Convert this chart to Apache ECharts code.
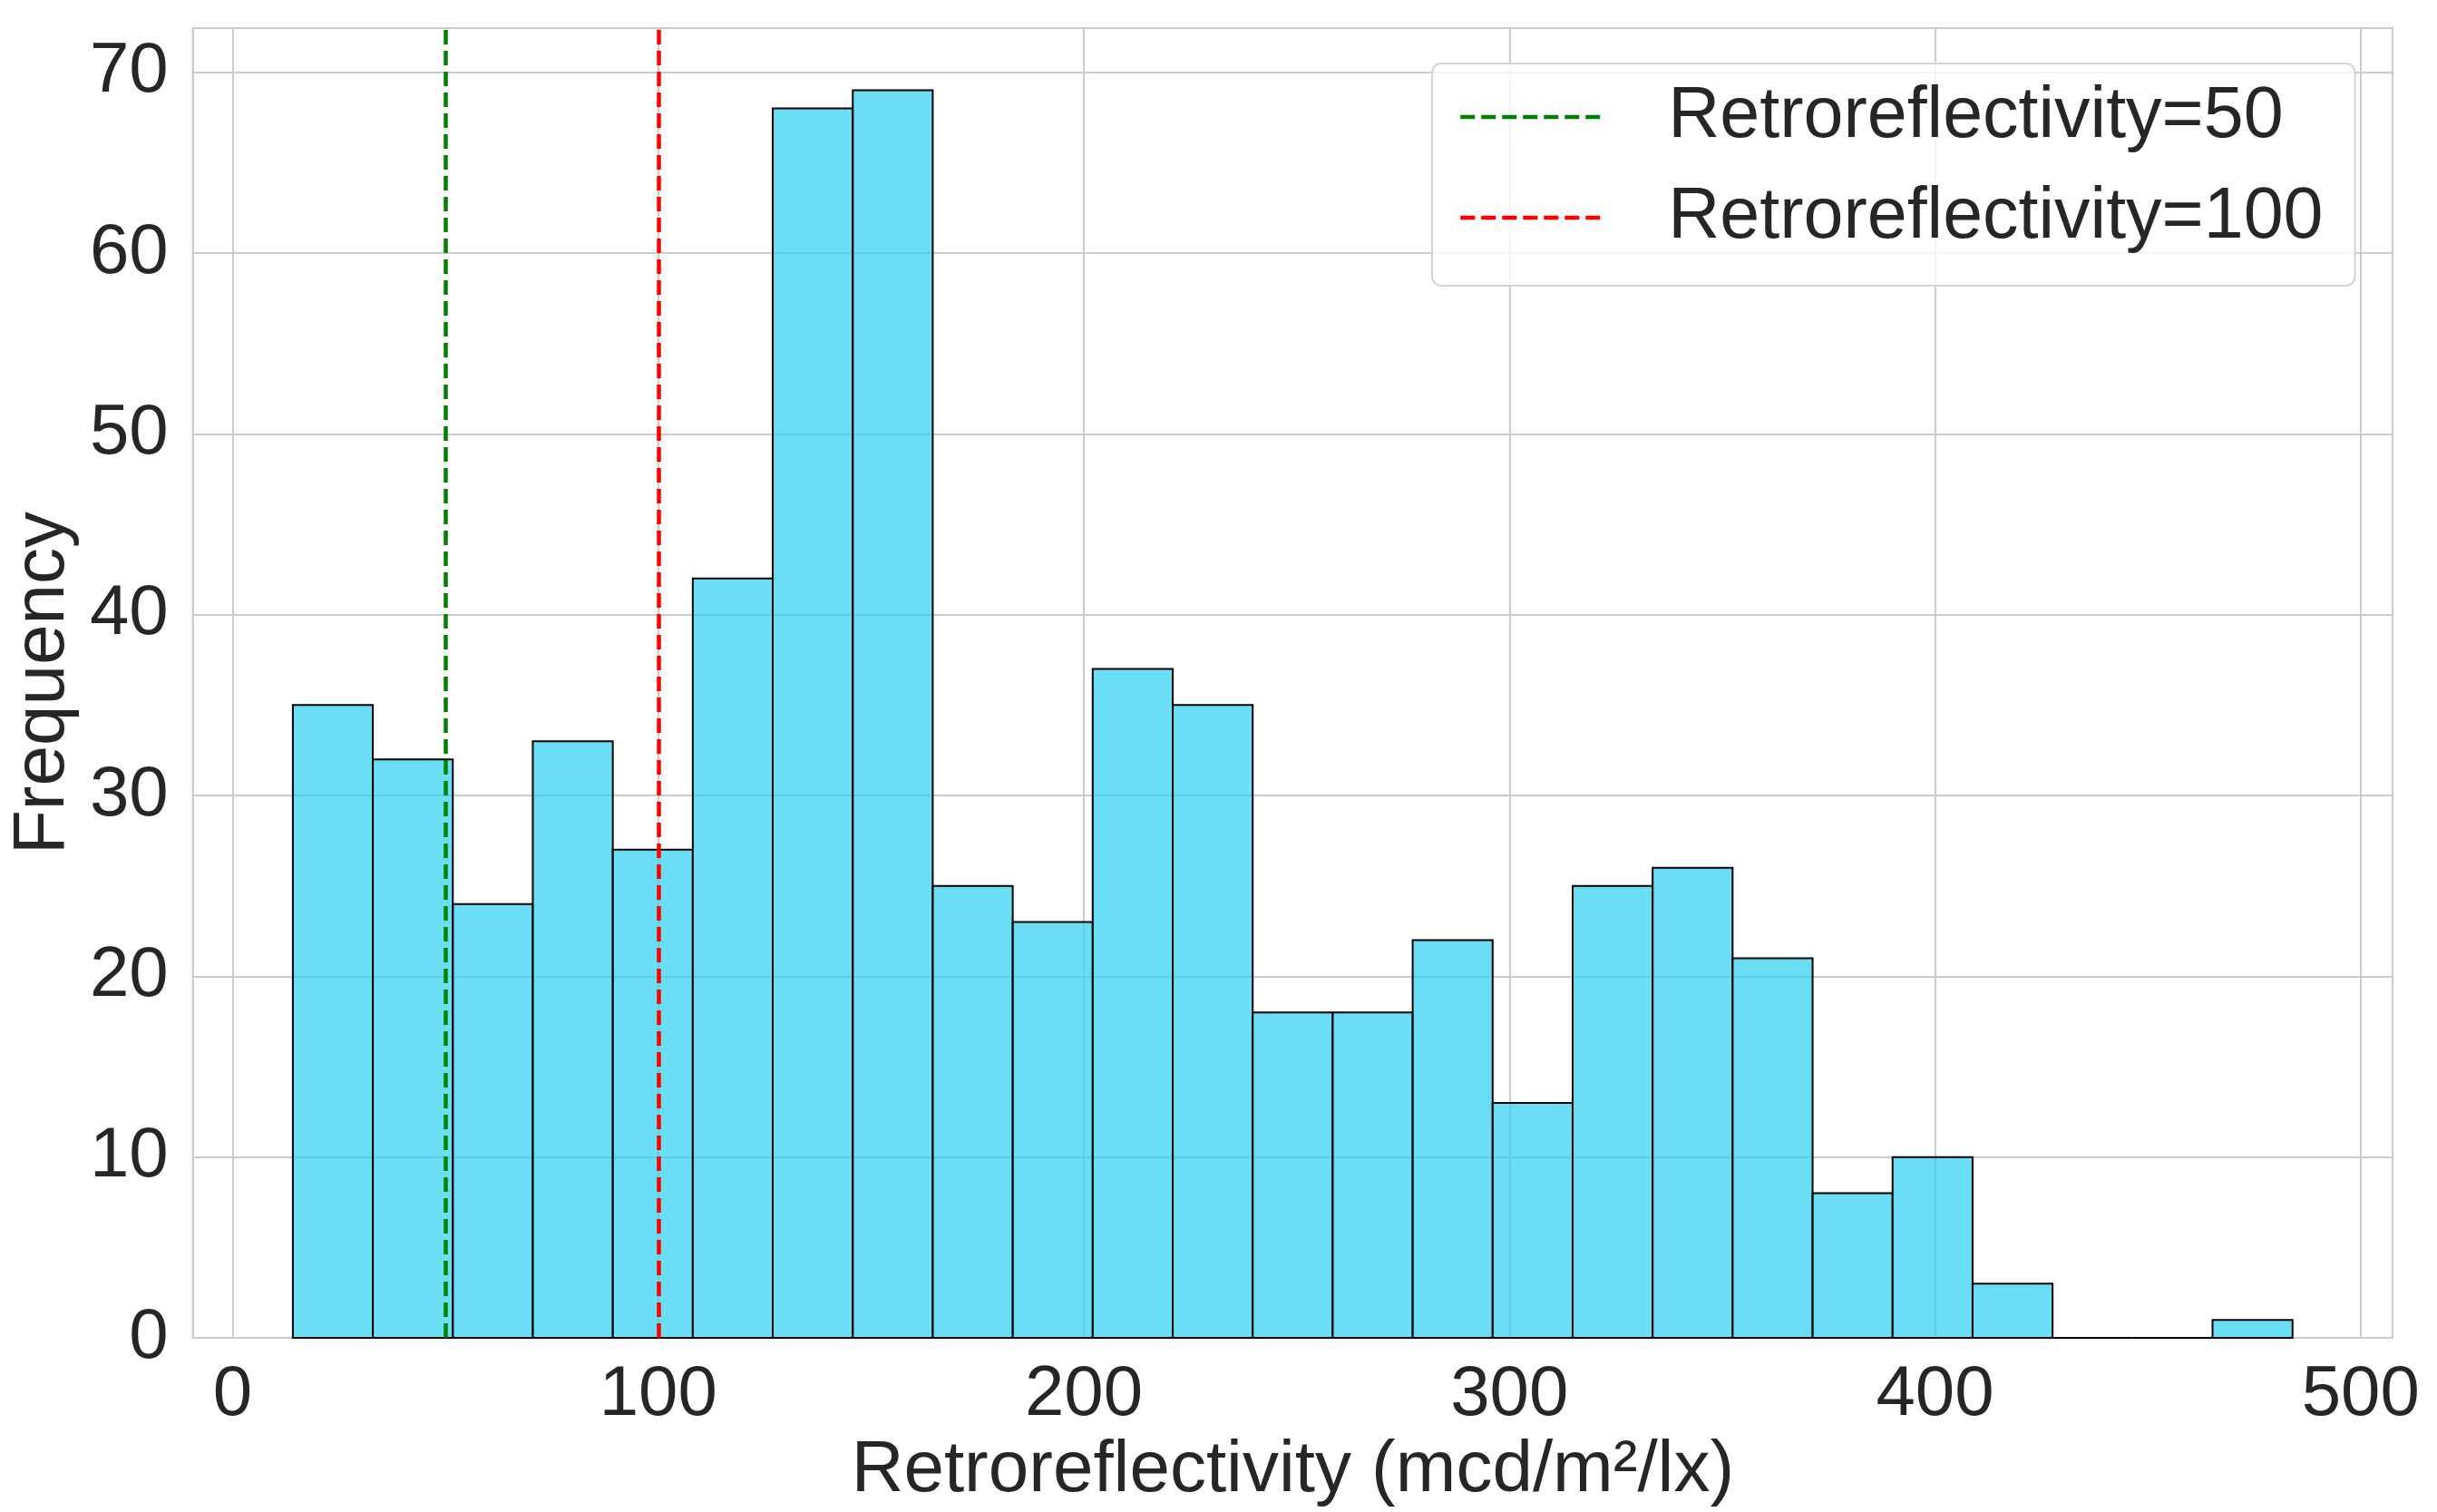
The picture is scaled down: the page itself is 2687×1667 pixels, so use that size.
<!DOCTYPE html>
<html>
<head>
<meta charset="utf-8">
<script src="https://cdn.jsdelivr.net/npm/echarts@6/dist/echarts.min.js"></script>
<style>
html,body{margin:0;padding:0;background:#ffffff;}
#chart{width:2687px;height:1667px;}
</style>
</head>
<body>
<div id="chart"></div>
<script>
// Histogram bin edges (25 bins)
const binEdges = [14.14, 32.93, 51.73, 70.52, 89.32, 108.11, 126.90, 145.70, 164.49, 183.29,
  202.08, 220.88, 239.67, 258.46, 277.26, 296.05, 314.85, 333.64, 352.43, 371.23,
  390.02, 408.82, 427.61, 446.41, 465.20, 484.00];
// Frequencies per bin
const counts = [35, 32, 24, 33, 27, 42, 68, 69, 25, 23, 37, 35, 18, 18, 22, 13, 25, 26, 21, 8, 10, 3, 0, 0, 1];
// Reference lines
const refValues = [50, 100];
const refNames = ['Retroreflectivity=50', 'Retroreflectivity=100'];
const refColors = ['#008000', '#ff0000'];
// Tick labels
const xTicks = [0, 100, 200, 300, 400, 500];
const yTicks = [0, 10, 20, 30, 40, 50, 60, 70];
const xLabel = 'Retroreflectivity (mcd/m²/lx)';
const yLabel = 'Frequency';

const FONT = 'Liberation Sans, Arial, sans-serif';
const TXT = '#262626';
const GRIDC = '#cccccc';
const DASH = [16, 7];

const histData = counts.map((c, i) => [binEdges[i], binEdges[i + 1], c]);

const chart = echarts.init(document.getElementById('chart'), null, {renderer: 'canvas'});

const refSeries = refValues.map((v, i) => ({
  type: 'line',
  name: refNames[i],
  data: [],
  symbol: 'none',
  z: 5,
  lineStyle: {color: refColors[i], width: 4.5, type: DASH},
  itemStyle: {color: refColors[i]},
  markLine: {
    silent: true,
    symbol: ['none', 'none'],
    animation: false,
    label: {show: false},
    lineStyle: {color: refColors[i], width: 4.5, type: DASH},
    data: [{xAxis: v}]
  }
}));

const option = {
  animation: false,
  backgroundColor: '#ffffff',
  grid: {
    left: 205, top: 31, right: 49, bottom: 187,
    show: true, borderColor: GRIDC, borderWidth: 2, backgroundColor: 'transparent'
  },
  legend: {
    orient: 'vertical',
    left: 1579, top: 70,
    data: refNames,
    itemWidth: 155, itemHeight: 20, itemGap: 21,
    padding: [14, 35, 30, 29],
    backgroundColor: 'rgba(255,255,255,0.8)',
    borderColor: '#d4d4d4', borderWidth: 2, borderRadius: 10,
    selectedMode: false,
    itemStyle: {opacity: 0},
    lineStyle: {width: 4.5, type: DASH},
    textStyle: {fontFamily: FONT, fontSize: 79, color: TXT, lineHeight: 90, padding: [0, 0, 0, 69]}
  },
  xAxis: {
    type: 'value',
    min: -9.35, max: 507.5,
    name: xLabel,
    nameLocation: 'middle',
    nameGap: 87,
    nameTextStyle: {fontFamily: FONT, fontSize: 80, color: TXT},
    axisLine: {show: false},
    axisTick: {show: false},
    axisLabel: {
      fontFamily: FONT, fontSize: 78, color: TXT, margin: 24,
      showMinLabel: false, showMaxLabel: false,
      formatter: v => (xTicks.indexOf(Math.round(v * 1000) / 1000) >= 0 ? String(v) : '')
    },
    splitLine: {show: true, lineStyle: {color: GRIDC, width: 2}}
  },
  yAxis: {
    type: 'value',
    min: 0, max: 72.44, interval: 10,
    name: yLabel,
    nameLocation: 'middle',
    nameGap: 114,
    nameTextStyle: {fontFamily: FONT, fontSize: 80, color: TXT},
    axisLine: {show: false},
    axisTick: {show: false},
    axisLabel: {
      fontFamily: FONT, fontSize: 78, color: TXT, margin: 27,
      showMaxLabel: false,
      formatter: v => (yTicks.indexOf(v) >= 0 ? String(v) : '')
    },
    splitLine: {show: true, lineStyle: {color: GRIDC, width: 2}}
  },
  series: [
    {
      type: 'custom',
      name: 'hist',
      z: 3,
      data: histData,
      encode: {x: [0, 1], y: 2},
      renderItem: function (params, api) {
        const p0 = api.coord([api.value(0), api.value(2)]);
        const p1 = api.coord([api.value(1), 0]);
        return {
          type: 'rect',
          shape: {x: p0[0], y: p0[1], width: p1[0] - p0[0], height: p1[1] - p0[1]},
          style: {fill: 'rgba(42,208,239,0.7)', stroke: '#000000', lineWidth: 2}
        };
      }
    }
  ].concat(refSeries)
};

chart.setOption(option);
</script>
</body>
</html>
